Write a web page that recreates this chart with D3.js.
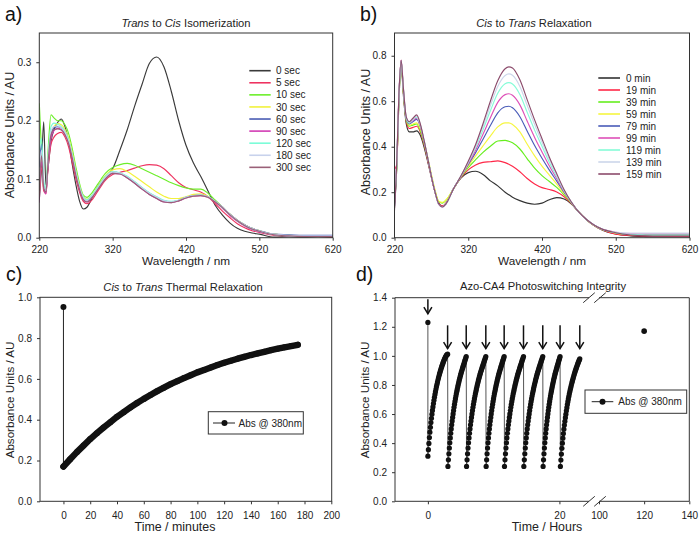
<!DOCTYPE html>
<html>
<head>
<meta charset="utf-8">
<script src="https://cdn.jsdelivr.net/npm/d3@7/dist/d3.min.js"></script>
<style>
html,body{margin:0;padding:0;background:#fff;}
svg{display:block;}
</style>
</head>
<body>
<svg id="fig" width="699" height="535" xmlns="http://www.w3.org/2000/svg"></svg>
<script>
// ================= DATA =================
const wavelengthTicks = [220, 320, 420, 520, 620];

// ---- panel a : Trans to Cis isomerization ----
const isoLabels = ["0 sec","5 sec","10 sec","30 sec","60 sec","90 sec","120 sec","180 sec","300 sec"];
const isoColors = ["#3a3a3a","#ee3360","#6cee2a","#f2f23c","#4a5cb4","#d23cb4","#7cfcd8","#c8d2ec","#9a6078"];
const isoWavelengths = [220,223,226,229,232,236,240,245,250,255,260,265,270,275,280,285,290,300,310,320,330,340,350,360,370,380,390,400,410,420,430,440,450,460,470,480,490,500,510,520,540,560,580,600,620];
const iso0s   = [0.065,0.12,0.198,0.09,0.12,0.165,0.185,0.197,0.203,0.19,0.165,0.125,0.09,0.062,0.049,0.052,0.063,0.088,0.105,0.118,0.15,0.185,0.225,0.262,0.298,0.309,0.292,0.25,0.2,0.158,0.128,0.105,0.08,0.055,0.038,0.025,0.016,0.011,0.008,0.006,0.001,0.002,0.001,0.002,0.001];
const iso5s   = [0.07,0.12,0.08,0.075,0.12,0.16,0.172,0.178,0.18,0.172,0.155,0.128,0.1,0.077,0.062,0.058,0.062,0.08,0.098,0.108,0.112,0.115,0.119,0.123,0.125,0.124,0.118,0.106,0.094,0.086,0.082,0.078,0.07,0.058,0.045,0.034,0.024,0.017,0.012,0.009,0.004,0.003,0.002,0.002,0.001];
const iso10s  = [0.23,0.15,0.09,0.08,0.15,0.21,0.205,0.2,0.2,0.193,0.178,0.152,0.12,0.092,0.073,0.069,0.074,0.092,0.11,0.12,0.125,0.127,0.124,0.118,0.112,0.106,0.1,0.094,0.089,0.085,0.083,0.083,0.076,0.064,0.052,0.04,0.03,0.022,0.016,0.012,0.006,0.004,0.003,0.003,0.002];
const iso30s  = [0.07,0.14,0.085,0.08,0.13,0.175,0.19,0.195,0.193,0.185,0.17,0.145,0.114,0.088,0.07,0.066,0.07,0.088,0.106,0.116,0.118,0.113,0.105,0.096,0.087,0.078,0.071,0.067,0.067,0.07,0.074,0.075,0.071,0.062,0.052,0.04,0.03,0.022,0.016,0.012,0.006,0.004,0.003,0.003,0.002];
const iso60s  = [0.12,0.16,0.09,0.08,0.13,0.175,0.188,0.19,0.188,0.18,0.165,0.14,0.11,0.085,0.068,0.063,0.068,0.085,0.103,0.112,0.11,0.104,0.095,0.085,0.076,0.069,0.063,0.061,0.064,0.069,0.072,0.073,0.07,0.062,0.052,0.04,0.03,0.022,0.016,0.012,0.006,0.005,0.004,0.004,0.004];
const iso90s  = [0.06,0.13,0.085,0.075,0.125,0.17,0.183,0.187,0.185,0.177,0.162,0.137,0.107,0.082,0.065,0.061,0.066,0.083,0.101,0.11,0.109,0.102,0.093,0.083,0.074,0.067,0.061,0.06,0.063,0.068,0.071,0.072,0.069,0.061,0.05,0.038,0.028,0.02,0.014,0.01,0.005,0.003,0.002,0.002,0.002];
const iso120s = [0.15,0.17,0.1,0.085,0.14,0.19,0.196,0.194,0.19,0.182,0.167,0.142,0.112,0.087,0.07,0.065,0.07,0.087,0.105,0.113,0.111,0.105,0.096,0.086,0.077,0.07,0.064,0.062,0.064,0.069,0.072,0.073,0.07,0.062,0.051,0.039,0.029,0.021,0.015,0.011,0.005,0.003,0.002,0.002,0.002];
const iso180s = [0.1,0.15,0.09,0.08,0.135,0.182,0.19,0.191,0.188,0.18,0.165,0.14,0.11,0.085,0.068,0.063,0.068,0.085,0.103,0.112,0.11,0.104,0.095,0.085,0.076,0.069,0.063,0.061,0.064,0.069,0.072,0.073,0.07,0.062,0.052,0.04,0.03,0.022,0.016,0.012,0.006,0.004,0.003,0.003,0.003];
const iso300s = [0.08,0.14,0.085,0.078,0.13,0.176,0.185,0.186,0.184,0.176,0.161,0.136,0.106,0.082,0.065,0.061,0.066,0.083,0.1,0.11,0.109,0.102,0.093,0.083,0.074,0.067,0.061,0.06,0.063,0.068,0.071,0.072,0.069,0.061,0.051,0.039,0.029,0.021,0.015,0.011,0.005,0.003,0.002,0.002,0.002];
const isoTicksY = [0, 0.1, 0.2, 0.3];

// ---- panel b : Cis to Trans relaxation ----
const relLabels = ["0 min","19 min","39 min","59 min","79 min","99 min","119 min","139 min","159 min"];
const relColors = ["#333333","#ff2848","#66ee1e","#f6f640","#4a5cb8","#de50b8","#86fcd8","#ccd6ea","#8c4c6c"];
const relWavelengths = [220,223,226,229,232,236,240,245,250,255,260,265,270,275,280,285,290,300,310,320,330,340,350,360,370,375,380,390,400,410,420,430,440,450,460,470,480,490,500,520,540,560,580,600,620];
const rel0   = [0.13,0.3,0.6,0.76,0.63,0.5,0.465,0.465,0.47,0.45,0.4,0.335,0.265,0.2,0.152,0.138,0.152, 0.215,0.262,0.286,0.292,0.278,0.25,0.228,0.2,0.189,0.178,0.163,0.152,0.147,0.152,0.167,0.176,0.17,0.148,0.112,0.08,0.055,0.036,0.016,0.008,0.005,0.004,0.004,0.004];
const rel19  = [0.3,0.32,0.62,0.78,0.64,0.51,0.48,0.485,0.49,0.465,0.41,0.34,0.268,0.2,0.15,0.14,0.153, 0.215,0.264,0.298,0.32,0.331,0.334,0.338,0.33,0.323,0.314,0.29,0.26,0.236,0.22,0.212,0.201,0.18,0.15,0.112,0.08,0.055,0.037,0.016,0.01,0.008,0.007,0.006,0.006];
const rel39  = [0.2,0.31,0.61,0.77,0.64,0.515,0.49,0.495,0.5,0.47,0.415,0.345,0.272,0.205,0.158,0.152,0.165, 0.215,0.266,0.308,0.343,0.375,0.402,0.425,0.428,0.424,0.417,0.39,0.347,0.306,0.273,0.247,0.221,0.188,0.152,0.112,0.08,0.056,0.038,0.022,0.016,0.015,0.015,0.015,0.015];
const rel59  = [0.15,0.31,0.61,0.77,0.645,0.52,0.495,0.5,0.505,0.48,0.425,0.355,0.28,0.21,0.16,0.155,0.167, 0.215,0.267,0.315,0.36,0.404,0.447,0.487,0.505,0.505,0.498,0.465,0.411,0.36,0.315,0.275,0.236,0.194,0.153,0.112,0.08,0.056,0.038,0.02,0.013,0.011,0.01,0.01,0.01];
const rel79  = [0.14,0.32,0.62,0.775,0.65,0.52,0.5,0.51,0.52,0.49,0.425,0.35,0.27,0.2,0.148,0.136,0.15, 0.215,0.268,0.321,0.374,0.433,0.493,0.549,0.576,0.578,0.571,0.532,0.468,0.405,0.349,0.297,0.249,0.199,0.154,0.112,0.08,0.057,0.039,0.022,0.014,0.012,0.012,0.012,0.012];
const rel99  = [0.22,0.33,0.63,0.78,0.655,0.525,0.505,0.515,0.525,0.49,0.425,0.35,0.27,0.2,0.146,0.135,0.15, 0.215,0.269,0.325,0.385,0.455,0.527,0.595,0.629,0.633,0.626,0.584,0.512,0.441,0.377,0.315,0.259,0.203,0.155,0.112,0.081,0.057,0.04,0.024,0.018,0.017,0.017,0.017,0.017];
const rel119 = [0.18,0.32,0.62,0.775,0.655,0.525,0.505,0.52,0.53,0.495,0.43,0.352,0.272,0.2,0.147,0.136,0.15, 0.215,0.27,0.33,0.396,0.474,0.558,0.635,0.677,0.682,0.676,0.63,0.551,0.473,0.402,0.331,0.268,0.206,0.155,0.112,0.081,0.057,0.04,0.022,0.014,0.012,0.011,0.011,0.011];
const rel139 = [0.16,0.33,0.63,0.78,0.66,0.53,0.51,0.52,0.535,0.497,0.43,0.35,0.27,0.2,0.145,0.134,0.15, 0.215,0.271,0.333,0.403,0.489,0.581,0.665,0.713,0.72,0.714,0.665,0.581,0.498,0.42,0.344,0.275,0.209,0.156,0.112,0.081,0.057,0.04,0.025,0.02,0.02,0.02,0.02,0.02];
const rel159 = [0.12,0.33,0.63,0.78,0.66,0.53,0.51,0.525,0.54,0.5,0.43,0.35,0.27,0.2,0.148,0.135,0.15, 0.215,0.271,0.336,0.41,0.501,0.6,0.69,0.743,0.751,0.746,0.694,0.606,0.518,0.435,0.354,0.281,0.211,0.156,0.112,0.081,0.057,0.04,0.022,0.012,0.008,0.007,0.007,0.007];
const relTicksY = [0, 0.2, 0.4, 0.6, 0.8];

// ---- panel c : thermal relaxation at 380 nm ----
const thermalStartAbs = 0.953;            // value before relaxation, at t = 0
const thermalMinutes = [0,5,10,15,20,25,30,35,40,45,50,55,60,65,70,75,80,85,90,95,100,105,110,115,120,125,130,135,140,145,150,155,160,165,170,175];
const thermalAbs = [0.17,0.206,0.241,0.273,0.305,0.334,0.362,0.388,0.414,0.437,0.46,0.482,0.502,0.521,0.54,0.557,0.574,0.589,0.604,0.618,0.632,0.644,0.656,0.668,0.679,0.689,0.699,0.708,0.717,0.725,0.733,0.741,0.748,0.755,0.761,0.767];
const thermalTicksX = [0,20,40,60,80,100,120,140,160,180,200];
const thermalTicksY = [0,0.2,0.4,0.6,0.8,1.0];

// ---- panel d : photoswitching integrity ----
const switchStartAbs = 1.23;              // before the first irradiation, t = 0
const cycleStartHours = [0, 3.05, 5.88, 8.86, 11.65, 14.59, 17.52, 20.15];
const cycleEndHours   = [3.0, 5.83, 8.81, 11.6, 14.54, 17.47, 20.1, 23.1];
const firstCycleAbs = [0.31,0.355,0.398,0.438,0.475,0.509,0.541,0.571,0.599,0.625,0.649,0.672,0.694,0.715,0.735,0.754,0.772,0.789,0.805,0.82,0.835,0.849,0.863,0.876,0.888,0.9,0.911,0.922,0.933,0.943,0.953,0.962,0.971,0.979,0.987,0.994,1.0,1.005,1.009,1.012];
const typicalCycleAbs = [0.24,0.285,0.327,0.366,0.402,0.436,0.468,0.498,0.526,0.552,0.577,0.601,0.624,0.646,0.667,0.687,0.706,0.724,0.741,0.757,0.773,0.788,0.803,0.817,0.831,0.844,0.857,0.869,0.881,0.892,0.903,0.914,0.924,0.934,0.944,0.955,0.965,0.975,0.985,0.995];
const lastCycleAbs = [0.24,0.284,0.325,0.364,0.4,0.434,0.466,0.496,0.524,0.55,0.575,0.599,0.622,0.644,0.665,0.685,0.704,0.722,0.739,0.755,0.77,0.785,0.799,0.813,0.826,0.839,0.851,0.863,0.875,0.886,0.897,0.907,0.917,0.927,0.937,0.946,0.955,0.964,0.972,0.98];
const cycleAbs = [firstCycleAbs, typicalCycleAbs, typicalCycleAbs, typicalCycleAbs, typicalCycleAbs, typicalCycleAbs, typicalCycleAbs, lastCycleAbs];
const laterHour = 120, laterAbs = 1.17;
const arrowHours = [0, 3.0, 5.83, 8.81, 11.6, 14.54, 17.47, 20.1, 23.1];
const arrowTopAbs = [1.39, 1.21, 1.21, 1.21, 1.21, 1.21, 1.21, 1.21, 1.21];
const arrowTipAbs = [1.29, 1.05, 1.05, 1.05, 1.05, 1.05, 1.05, 1.05, 1.05];
const switchTicksLeft = [0, 20];
const switchTicksRight = [100, 120, 140];
const switchTicksY = [0,0.2,0.4,0.6,0.8,1.0,1.2,1.4];

// ================= DRAWING =================
const FONT = '"Liberation Sans", Arial, Helvetica, sans-serif';
const INK = "#222";
const AX = "#333";
const svg = d3.select("#fig").attr("font-family", FONT);
const defs = svg.append("defs");

function styleAxis(g, fs) {
  g.attr("font-family", FONT).attr("font-size", fs);
  g.select(".domain").remove();
  g.selectAll(".tick line").attr("stroke", AX).attr("stroke-width", 1);
  g.selectAll(".tick text").attr("fill", INK);
}

function frame(x0, x1, y0, y1) {
  svg.append("rect").attr("x", x0).attr("y", y0).attr("width", x1 - x0).attr("height", y1 - y0)
    .attr("fill", "none").attr("stroke", AX).attr("stroke-width", 1);
}

function titleText(x, y, parts, fs) {
  const t = svg.append("text").attr("x", x).attr("y", y).attr("text-anchor", "middle")
    .attr("font-size", fs || 11.2).attr("fill", INK);
  parts.forEach(p => t.append("tspan").attr("font-style", p[1] ? "italic" : "normal").text(p[0]));
}

function yTitle(x, y, txt, fs) {
  svg.append("text").attr("transform", `translate(${x},${y}) rotate(-90)`)
    .attr("text-anchor", "middle").attr("font-size", fs).attr("fill", INK).text(txt);
}

function panelLetter(x, y, txt) {
  svg.append("text").attr("x", x).attr("y", y).attr("font-size", 19.5).attr("fill", "#111").text(txt);
}

function spectra(p) {
  const x = d3.scaleLinear().domain([220, 620]).range([p.x0, p.x1]);
  const y = d3.scaleLinear().domain([0, p.yMax]).range([p.y1, p.y0]);
  const cid = "clip" + p.id;
  defs.append("clipPath").attr("id", cid).append("rect")
    .attr("x", p.x0).attr("y", p.y0).attr("width", p.x1 - p.x0).attr("height", p.y1 - p.y0);
  const g = svg.append("g").attr("clip-path", `url(#${cid})`);
  const line = d3.line().x((d, i) => x(p.wl[i])).y(d => y(d)).curve(d3.curveMonotoneX);
  p.series.forEach((s, k) => {
    g.append("path").attr("d", line(s)).attr("fill", "none")
      .attr("stroke", p.colors[k]).attr("stroke-width", 1.15).attr("stroke-linejoin", "round");
  });
  const ax = svg.append("g").attr("transform", `translate(0,${p.y1})`)
    .call(d3.axisBottom(x).tickValues(wavelengthTicks).tickSize(3).tickPadding(5.5).tickFormat(d3.format("d")));
  styleAxis(ax, 10);
  const ay = svg.append("g").attr("transform", `translate(${p.x0},0)`)
    .call(d3.axisLeft(y).tickValues(p.yTicks).tickSize(3).tickPadding(5).tickFormat(d3.format(".1f")));
  styleAxis(ay, 10);
  frame(p.x0, p.x1, p.y0, p.y1);
  // legend
  p.labels.forEach((lab, i) => {
    const yy = p.legY + i * p.legDy;
    svg.append("line").attr("x1", p.legX0).attr("x2", p.legX1).attr("y1", yy).attr("y2", yy)
      .attr("stroke", p.colors[i]).attr("stroke-width", 1.6);
    svg.append("text").attr("x", p.legTx).attr("y", yy).attr("dy", "0.36em")
      .attr("font-size", 10).attr("fill", INK).text(lab);
  });
}

// ---- panel a ----
spectra({
  id: "a", x0: 39.3, x1: 332.7, y0: 33, y1: 237.7, yMax: 0.35, yTicks: isoTicksY,
  wl: isoWavelengths, series: [iso0s, iso5s, iso10s, iso30s, iso60s, iso90s, iso120s, iso180s, iso300s],
  colors: isoColors, labels: isoLabels, legX0: 249.3, legX1: 270.7, legTx: 276, legY: 70.7, legDy: 12.08
});
panelLetter(5, 21, "a)");
titleText(186, 26.5, [["Trans", true], [" to ", false], ["Cis", true], [" Isomerization", false]]);
titleText(186, 265, [["Wavelength / nm", false]], 11.8);
yTitle(13.8, 135, "Absorbance Units / AU", 12.6);

// ---- panel b ----
spectra({
  id: "b", x0: 394.5, x1: 689.5, y0: 33, y1: 237.7, yMax: 0.9, yTicks: relTicksY,
  wl: relWavelengths, series: [rel0, rel19, rel39, rel59, rel79, rel99, rel119, rel139, rel159],
  colors: relColors, labels: relLabels, legX0: 598.3, legX1: 620, legTx: 626, legY: 78, legDy: 12
});
panelLetter(360, 21, "b)");
titleText(534, 26.5, [["Cis", true], [" to ", false], ["Trans", true], [" Relaxation", false]]);
titleText(542, 265, [["Wavelength / nm", false]], 11.8);
yTitle(369.5, 132, "Absorbance Units / AU", 12.6);

// ---- panel c ----
(function () {
  const x0 = 40, x1 = 331.7, y0 = 297.3, y1 = 501.3;
  const x = d3.scaleLinear().domain([-17.5, 200]).range([x0, 331.3]);
  const y = d3.scaleLinear().domain([0, 1]).range([y1, y0]);
  const pts = [[0, thermalStartAbs]].concat(thermalMinutes.map((t, i) => [t, thermalAbs[i]]));
  const thin = d3.line().x(d => x(d[0])).y(d => y(d[1]));
  svg.append("path").attr("d", thin(pts)).attr("fill", "none").attr("stroke", "#222").attr("stroke-width", 1);
  // dense sampling appears as a continuous band of markers
  svg.append("path").attr("d", thin(pts.slice(1))).attr("fill", "none").attr("stroke", "#111")
    .attr("stroke-width", 6.4).attr("stroke-linecap", "round").attr("stroke-linejoin", "round");
  svg.append("g").selectAll("circle").data(pts).join("circle")
    .attr("cx", d => x(d[0])).attr("cy", d => y(d[1])).attr("r", 3).attr("fill", "#111");
  const ax = svg.append("g").attr("transform", `translate(0,${y1})`)
    .call(d3.axisBottom(x).tickValues(thermalTicksX).tickSize(3).tickPadding(8).tickFormat(d3.format("d")));
  styleAxis(ax, 10);
  const ay = svg.append("g").attr("transform", `translate(${x0},0)`)
    .call(d3.axisLeft(y).tickValues(thermalTicksY).tickSize(3).tickPadding(5).tickFormat(d3.format(".1f")));
  styleAxis(ay, 10);
  frame(x0, x1, y0, y1);
  // legend
  svg.append("rect").attr("x", 208.3).attr("y", 411.7).attr("width", 95).attr("height", 22.3)
    .attr("fill", "#fff").attr("stroke", AX).attr("stroke-width", 1);
  svg.append("line").attr("x1", 213).attr("x2", 235).attr("y1", 423).attr("y2", 423).attr("stroke", "#222").attr("stroke-width", 1);
  svg.append("circle").attr("cx", 224.5).attr("cy", 423).attr("r", 3).attr("fill", "#111");
  svg.append("text").attr("x", 238.5).attr("y", 423).attr("dy", "0.36em").attr("font-size", 10).attr("fill", INK).text("Abs @ 380nm");
})();
panelLetter(6, 281, "c)");
titleText(183, 290.5, [["Cis", true], [" to ", false], ["Trans", true], [" Thermal Relaxation", false]]);
titleText(175, 531, [["Time / minutes", false]], 12.4);
yTitle(13.5, 400, "Absorbance Units / AU", 11.6);

// ---- panel d ----
(function () {
  const x0 = 395, x1 = 689.3, y0 = 297.7, y1 = 501.3;
  const xL = d3.scaleLinear().domain([-5, 24.5]).range([x0, 589]);
  const xR = d3.scaleLinear().domain([100, 140]).range([599, x1]);
  const y = d3.scaleLinear().domain([0, 1.4]).range([y1, y0]);
  const pts = [[0, switchStartAbs]];
  cycleAbs.forEach((vals, k) => {
    const t0 = cycleStartHours[k], t1 = cycleEndHours[k];
    vals.forEach((v, i) => pts.push([t0 + (t1 - t0) * i / (vals.length - 1), v]));
  });
  const thin = d3.line().x(d => xL(d[0])).y(d => y(d[1]));
  svg.append("path").attr("d", thin(pts)).attr("fill", "none").attr("stroke", "#555").attr("stroke-width", 1);
  svg.append("g").selectAll("circle").data(pts).join("circle")
    .attr("cx", d => xL(d[0])).attr("cy", d => y(d[1])).attr("r", 2.6).attr("fill", "#111");
  svg.append("circle").attr("cx", xR(laterHour)).attr("cy", y(laterAbs)).attr("r", 2.8).attr("fill", "#111");
  // arrows
  arrowHours.forEach((h, i) => {
    const ax = xL(h), yt = y(arrowTopAbs[i]), yb = y(arrowTipAbs[i]);
    const g = svg.append("g").attr("stroke", "#111").attr("stroke-width", 1.5).attr("fill", "none");
    g.append("line").attr("x1", ax).attr("x2", ax).attr("y1", yt).attr("y2", yb);
    g.append("path").attr("d", `M${ax - 4},${yb - 6.5} L${ax},${yb} L${ax + 4},${yb - 6.5}`);
  });
  // axes
  const axL = svg.append("g").attr("transform", `translate(0,${y1})`)
    .call(d3.axisBottom(xL).tickValues(switchTicksLeft).tickSize(3).tickPadding(8).tickFormat(d3.format("d")));
  styleAxis(axL, 10);
  const axR = svg.append("g").attr("transform", `translate(0,${y1})`)
    .call(d3.axisBottom(xR).tickValues(switchTicksRight).tickSize(3).tickPadding(8).tickFormat(d3.format("d")));
  styleAxis(axR, 10);
  const ay = svg.append("g").attr("transform", `translate(${x0},0)`)
    .call(d3.axisLeft(y).tickValues(switchTicksY).tickSize(3).tickPadding(5).tickFormat(d3.format(".1f")));
  styleAxis(ay, 10);
  // broken frame
  const fr = svg.append("g").attr("stroke", AX).attr("stroke-width", 1).attr("fill", "none");
  fr.append("line").attr("x1", x0).attr("x2", x0).attr("y1", y0).attr("y2", y1);
  fr.append("line").attr("x1", x1).attr("x2", x1).attr("y1", y0).attr("y2", y1);
  [y0, y1].forEach(yy => {
    fr.append("line").attr("x1", x0).attr("x2", 589).attr("y1", yy).attr("y2", yy);
    fr.append("line").attr("x1", 599).attr("x2", x1).attr("y1", yy).attr("y2", yy);
    [589, 600].forEach(cx => {
      fr.append("line").attr("x1", cx - 5.8).attr("y1", yy + 5).attr("x2", cx + 5.8).attr("y2", yy - 5);
    });
  });
  // legend
  svg.append("rect").attr("x", 585).attr("y", 390).attr("width", 101.7).attr("height", 23.3)
    .attr("fill", "#fff").attr("stroke", AX).attr("stroke-width", 1);
  svg.append("line").attr("x1", 591.7).attr("x2", 613.3).attr("y1", 401.7).attr("y2", 401.7).attr("stroke", "#222").attr("stroke-width", 1);
  svg.append("circle").attr("cx", 602.5).attr("cy", 401.7).attr("r", 3).attr("fill", "#111");
  svg.append("text").attr("x", 618.3).attr("y", 401.7).attr("dy", "0.36em").attr("font-size", 10).attr("fill", INK).text("Abs @ 380nm");
})();
panelLetter(356, 281, "d)");
titleText(543, 290, [["Azo-CA4 Photoswitching Integrity", false]]);
titleText(547, 531, [["Time / Hours", false]], 12.4);
yTitle(369, 400, "Absorbance Units / AU", 11.6);
</script>
</body>
</html>
